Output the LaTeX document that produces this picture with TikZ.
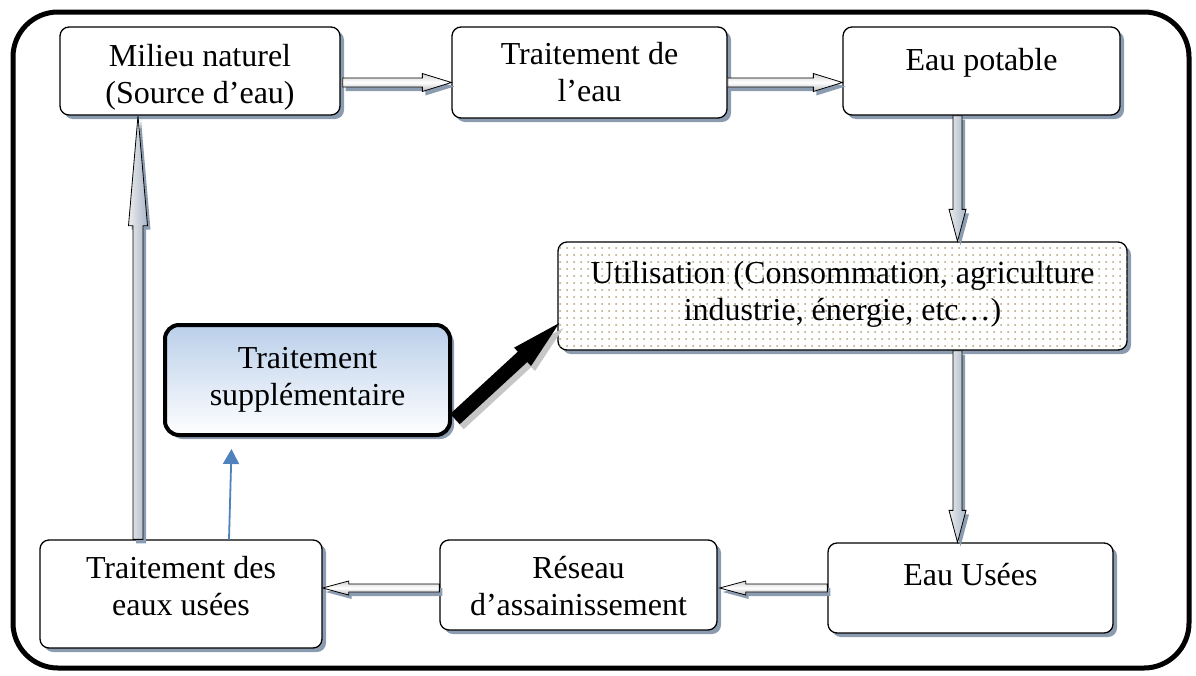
\documentclass[tikz,border=0pt]{standalone}
\usepackage{fontspec}
\setmainfont{Liberation Serif}
\usetikzlibrary{calc,shadows,patterns.meta,arrows.meta}
\definecolor{shcol}{RGB}{140,156,176}
\definecolor{dotcol}{RGB}{175,163,120}
\definecolor{suptop}{RGB}{186,207,234}
\definecolor{bluearr}{RGB}{79,129,189}
\definecolor{arrdark}{RGB}{170,182,200}
\newcommand\fs{\fontsize{32}{37}\selectfont}
% text block moved vertically (#1) without changing the node size
\newcommand\txt[2]{\raisebox{#1}[\height][\depth]{\begin{tabular}{@{}c@{}}#2\end{tabular}}}
% #2 start, #3 end, #4 shaft half width, #5 head half width, #6 head length
\newcommand\fatarrow[6][]{%
  \path[#1] let \p1=(#2), \p2=(#3), \n1={atan2(\y2-\y1,\x2-\x1)} in
    ($(\p1)+({\n1+90}:#4)$) -- ($(\p2)!#6!(\p1)+({\n1+90}:#4)$) --
    ($(\p2)!#6!(\p1)+({\n1+90}:#5)$) -- (\p2) --
    ($(\p2)!#6!(\p1)+({\n1-90}:#5)$) -- ($(\p2)!#6!(\p1)+({\n1-90}:#4)$) --
    ($(\p1)+({\n1-90}:#4)$) -- cycle;}
\begin{document}
\begin{tikzpicture}[x=1pt,y=-1pt,
  box/.style={draw, line width=1.3pt, rounded corners=9pt, fill=white,
    align=center, font=\fs, inner sep=0pt,
    drop shadow={shadow xshift=4pt, shadow yshift=-4pt, fill=shcol, opacity=1}},
  harr/.style={draw=black, line width=0.8pt, top color=gray!35, bottom color=gray!55,
    middle color=white,
    drop shadow={shadow xshift=3pt, shadow yshift=-4pt, fill=shcol, opacity=1}},
  varr/.style={draw=black, line width=0.8pt, left color=gray!15, right color=arrdark,
    drop shadow={shadow xshift=3pt, shadow yshift=-4pt, fill=shcol, opacity=1}},
  barr/.style={fill=black,
    drop shadow={shadow xshift=4pt, shadow yshift=-5pt, fill=gray!45, opacity=1}}
  ]
\useasboundingbox (0,0) rectangle (1196,675);
\draw[line width=5pt, rounded corners=45pt] (13,12) rectangle (1189,668);

\node[box, minimum width=280pt, minimum height=88pt] (milieu) at (200,71)
  {\txt{-7pt}{Milieu naturel\\(Source d’eau)}};
\node[box, minimum width=275pt, minimum height=91pt] (trait) at (589.5,72.5)
  {\txt{-3pt}{Traitement de\\l’eau}};
\node[box, minimum width=277pt, minimum height=88pt] (potable) at (981.5,71)
  {\txt{8pt}{Eau potable}};
\node[box, minimum width=569pt, minimum height=108pt,
  postaction={pattern={Dots[radius=1pt, distance=7pt]}, pattern color=dotcol}]
  (util) at (842.5,296)
  {\txt{1pt}{Utilisation (Consommation, agriculture\\industrie, énergie, etc…)}};
\node[box, line width=4pt, rounded corners=14pt, top color=suptop, bottom color=white,
  minimum width=285pt, minimum height=110pt] (supp) at (307.5,380)
  {\txt{0pt}{Traitement\\supplémentaire}};
\node[box, minimum width=282pt, minimum height=108pt] (teu) at (181,594)
  {\txt{4pt}{Traitement des\\eaux usées}};
\node[box, minimum width=277pt, minimum height=90pt] (reseau) at (578.5,585)
  {\txt{-5pt}{Réseau\\d’assainissement}};
\node[box, minimum width=285pt, minimum height=90pt] (usees) at (970.5,588)
  {\txt{10pt}{Eau Usées}};

\coordinate (a1) at ($(milieu.east)+(2,11.5)$);
\coordinate (a2) at ($(trait.east)+(0,10)$);
\coordinate (a3) at ($(potable.south)+(-24,0)$);
\coordinate (a4) at ($(util.south)+(115,0)$);
\coordinate (a5) at ($(usees.west)+(0,0)$);
\coordinate (a6) at ($(reseau.west)+(0,3)$);
\coordinate (a7) at ($(teu.north)+(-43,0)$);

\fatarrow[harr]{a1}{trait.west |- a1}{4.5pt}{9pt}{29pt}
\fatarrow[harr]{a2}{potable.west |- a2}{4.5pt}{9pt}{29pt}
\fatarrow[varr]{a3}{util.north -| a3}{4.5pt}{8.5pt}{32pt}
\fatarrow[varr]{a4}{usees.north -| a4}{4.5pt}{8.5pt}{32pt}
\fatarrow[harr]{a5}{$(reseau.east |- a5)+(2,0)$}{4pt}{7pt}{26pt}
\fatarrow[harr]{a6}{teu.east |- a6}{4pt}{7pt}{26pt}
\fatarrow[varr]{a7}{milieu.south -| a7}{5pt}{9.5pt}{110pt}
\fatarrow[barr]{$(supp.south east)+(3,-18)$}{$(util.west)+(2,27)$}{7pt}{12.5pt}{50pt}

\draw[bluearr, line width=1.8pt, -{Triangle[length=15pt,width=16pt]}]
  ($(teu.north)+(48,0)$) -- ($(supp.south)+(-76,12)$);
\end{tikzpicture}
\end{document}
